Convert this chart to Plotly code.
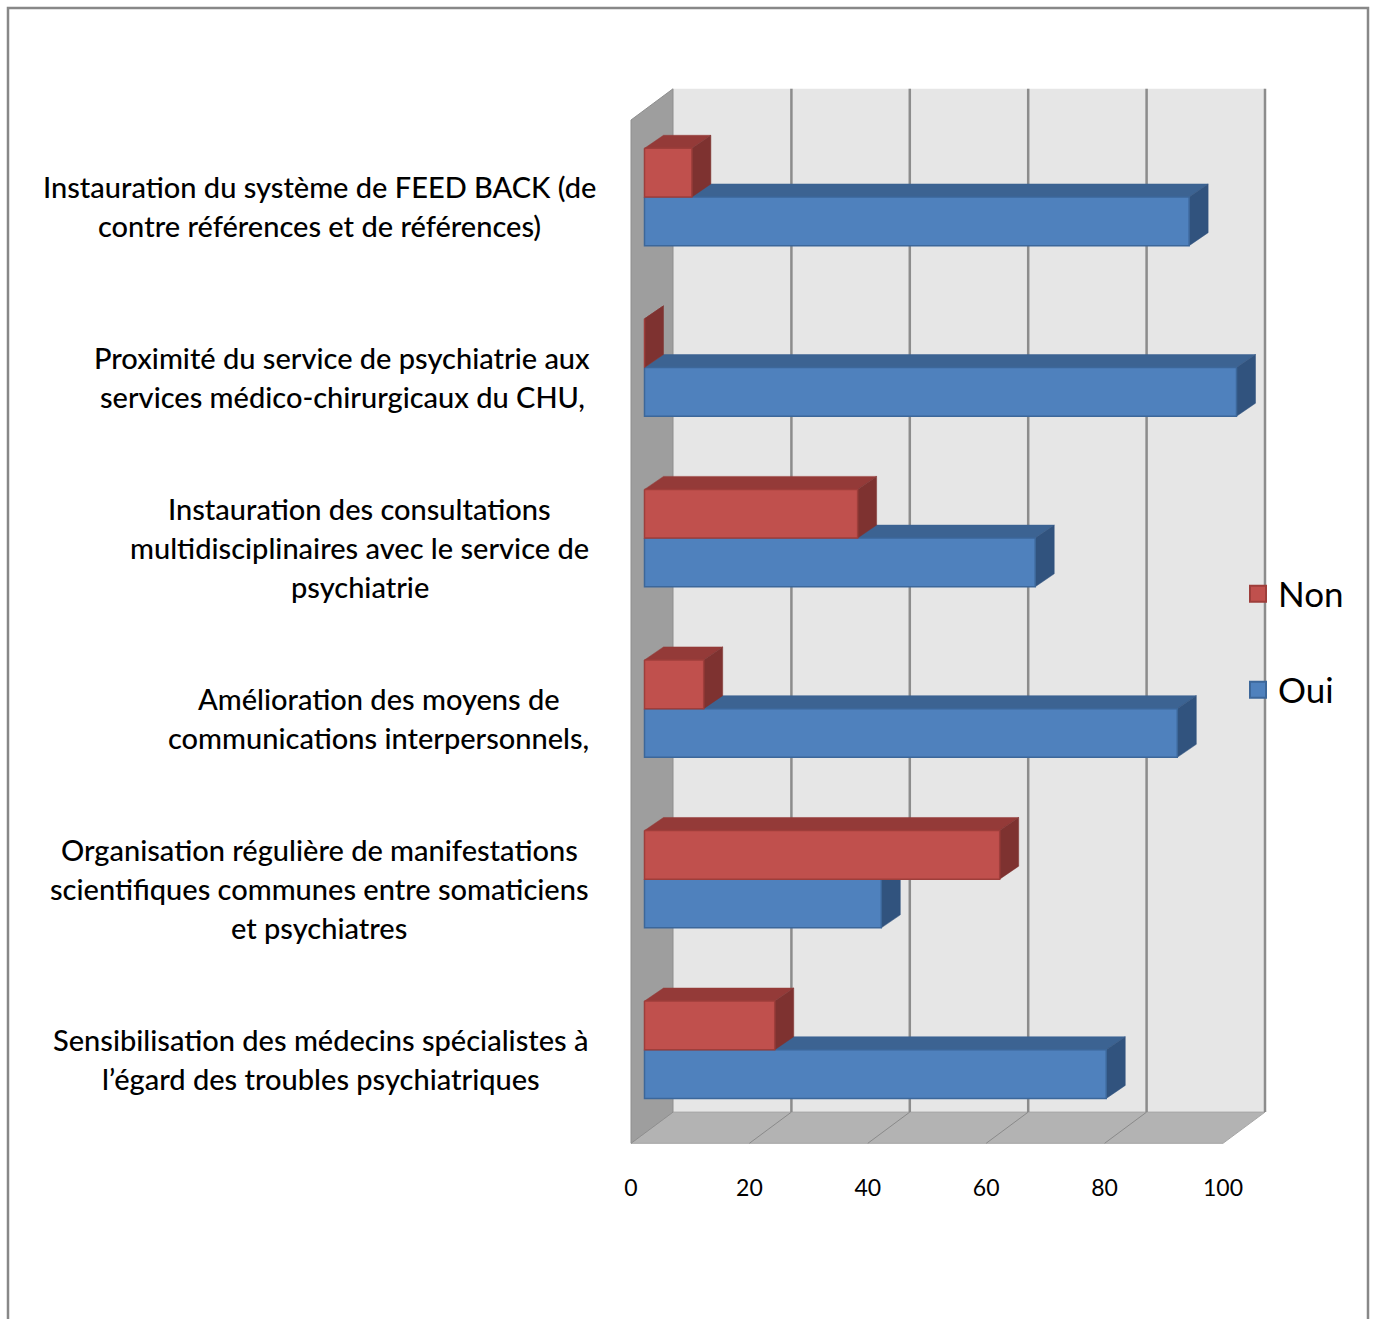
import plotly.graph_objects as go

# ---- data -------------------------------------------------------------
categories = [
    "Instauration du système de FEED BACK (de\ncontre références et de références)",
    "Proximité du service de psychiatrie aux\nservices médico-chirurgicaux du CHU,",
    "Instauration des consultations\nmultidisciplinaires avec le service de\npsychiatrie",
    "Amélioration des moyens de\ncommunications interpersonnels,",
    "Organisation régulière de manifestations\nscientifiques communes entre somaticiens\net psychiatres",
    "Sensibilisation des médecins spécialistes à\nl’égard des troubles psychiatriques",
]
oui = [92, 100, 66, 90, 40, 78]
non = [8, 0, 36, 10, 60, 22]
x_ticks = [0, 20, 40, 60, 80, 100]

# ---- page geometry (pixels) ---------------------------------------------
W, H = 1375, 1319
M_L, M_R, M_T, M_B = 625, 90, 80, 173
PLOT_W, PLOT_H = W - M_L - M_R, H - M_T - M_B
PX_X = 5.92        # px per value unit
X0_PX = 631        # front plane zero
PX_Y = 170.55      # px per category band
Y_TOP_PX = 120     # front plane top edge

x_lo = -(X0_PX - M_L) / PX_X
x_hi = x_lo + PLOT_W / PX_X
y_top = -0.5 - (Y_TOP_PX - M_T) / PX_Y
y_bot = y_top + PLOT_H / PX_Y

# 3-D offsets expressed in axis units
WALL_DX, WALL_DY = 42 / PX_X, -31.2 / PX_Y
BAR_DX, BAR_DY = 13.5 / PX_X, -8.3 / PX_Y
DEP_DX, DEP_DY = 19 / PX_X, -13 / PX_Y
BAR_H = 48.7 / PX_Y
N = len(categories)
Y0, Y1 = -0.5, N - 0.5
XMAX = x_ticks[-1]


def px2paper_x(px):
    return (px - M_L) / PLOT_W


def px2paper_y(py):
    return 1 - (py - M_T) / PLOT_H


def polys(shapes):
    xs, ys = [], []
    for pts in shapes:
        for px, py in pts + [pts[0]]:
            xs.append(px)
            ys.append(py)
        xs.append(None)
        ys.append(None)
    return xs, ys


def face(shapes, fill, line, lw=1, group=None):
    xs, ys = polys(shapes)
    return go.Scatter(x=xs, y=ys, mode="lines", fill="toself", fillcolor=fill,
                      line=dict(color=line, width=lw), showlegend=False,
                      hoverinfo="skip", legendgroup=group)


fig = go.Figure()

# back wall, floor, side wall
fig.add_trace(face([[(WALL_DX, Y0 + WALL_DY), (XMAX + WALL_DX, Y0 + WALL_DY),
                     (XMAX + WALL_DX, Y1 + WALL_DY), (WALL_DX, Y1 + WALL_DY)]],
                   "#E6E6E6", "#E6E6E6", 0))
fig.add_trace(face([[(0, Y1), (WALL_DX, Y1 + WALL_DY), (XMAX + WALL_DX, Y1 + WALL_DY),
                     (XMAX, Y1)]], "#B3B3B3", "#A6A6A6", 1))
fig.add_trace(face([[(0, Y0), (WALL_DX, Y0 + WALL_DY), (WALL_DX, Y1 + WALL_DY),
                     (0, Y1)]], "#9E9E9E", "#8E8E8E", 1))

# gridlines on the back wall and on the floor
gx, gy = [], []
for t in x_ticks[1:]:
    gx += [t + WALL_DX, t + WALL_DX, None]
    gy += [Y0 + WALL_DY, Y1 + WALL_DY, None]
fig.add_trace(go.Scatter(x=gx, y=gy, mode="lines", line=dict(color="#8C8C8C", width=2.5),
                         showlegend=False, hoverinfo="skip"))
fx, fy = [], []
for t in x_ticks[1:-1]:
    fx += [t, t + WALL_DX, None]
    fy += [Y1, Y1 + WALL_DY, None]
fig.add_trace(go.Scatter(x=fx, y=fy, mode="lines", line=dict(color="#8A8A8A", width=1),
                         showlegend=False, hoverinfo="skip"))

# bars: Oui sits in the lower half of each band, Non in the upper half
styles = {
    "Oui": dict(front="#4F81BD", edge="#3C679A", top="#3C6392", side="#31537E"),
    "Non": dict(front="#C0504D", edge="#9E3E3B", top="#943A38", side="#7E3230"),
}
for name, vals, half in (("Oui", oui, 0), ("Non", non, -1)):
    st = styles[name]
    tops, sides, fronts = [], [], []
    for k, v in enumerate(vals):
        ya = k + BAR_DY + half * BAR_H          # upper edge
        yb = ya + BAR_H                        # lower edge
        xa, xb = BAR_DX, BAR_DX + v
        tops.append([(xa, ya), (xa + DEP_DX, ya + DEP_DY), (xb + DEP_DX, ya + DEP_DY), (xb, ya)])
        sides.append([(xb, ya), (xb + DEP_DX, ya + DEP_DY), (xb + DEP_DX, yb + DEP_DY), (xb, yb)])
        fronts.append([(xa, ya), (xb, ya), (xb, yb), (xa, yb)])
    fig.add_trace(face(tops, st["top"], st["top"], 0.5, name))
    fig.add_trace(face(sides, st["side"], st["side"], 0.5, name))
    fig.add_trace(face(fronts, st["front"], st["edge"], 1.5, name))

# legend entries
for name, leg in (("Non", "legend"), ("Oui", "legend2")):
    st = styles[name]
    fig.add_trace(go.Scatter(x=[None], y=[None], mode="markers", name=name,
                             legend=leg, legendgroup=name,
                             marker=dict(symbol="square", size=16, color=st["front"],
                                         line=dict(color=st["edge"], width=2))))

# category labels: centred lines, block right-aligned next to the wall
label_cx = [319.5, 342, 359.5, 378.5, 319, 320.5]
LINE_H = 39
annotations = []
for k, text in enumerate(categories):
    lines = text.split("\n")
    n = len(lines)
    for i, line in enumerate(lines):
        annotations.append(dict(
            text=line, xref="paper", yref="y", x=px2paper_x(label_cx[k]), y=k,
            xanchor="center", yanchor="middle", showarrow=False,
            yshift=-(i - (n - 1) / 2) * LINE_H - 1,
            font=dict(family="Lato", size=29, weight=500, color="black")))

legend_style = dict(xanchor="left", yanchor="middle", bgcolor="rgba(0,0,0,0)",
                    font=dict(family="Lato", size=35, color="black"), borderwidth=0)

fig.update_layout(
    width=W, height=H,
    margin=dict(l=M_L, r=M_R, t=M_T, b=M_B, autoexpand=False),
    paper_bgcolor="white", plot_bgcolor="white",
    showlegend=True,
    legend=dict(x=px2paper_x(1238), y=px2paper_y(594), **legend_style),
    legend2=dict(x=px2paper_x(1238), y=px2paper_y(690), **legend_style),
    xaxis=dict(range=[x_lo, x_hi], tickvals=x_ticks, showgrid=False, zeroline=False,
               showline=False, ticks="outside", ticklen=0, tickcolor="rgba(0,0,0,0)",
               ticklabelstandoff=21, fixedrange=True,
               tickfont=dict(family="Lato", size=23, color="black")),
    yaxis=dict(range=[y_bot, y_top], showgrid=False, zeroline=False, showline=False,
               showticklabels=False, fixedrange=True),
    annotations=annotations,
    shapes=[dict(type="rect", xref="paper", yref="paper",
                 x0=px2paper_x(8), x1=px2paper_x(1368),
                 y0=px2paper_y(1340), y1=px2paper_y(8),
                 line=dict(color="#888888", width=2.5), layer="below")],
)

fig.write_html("out.html")
